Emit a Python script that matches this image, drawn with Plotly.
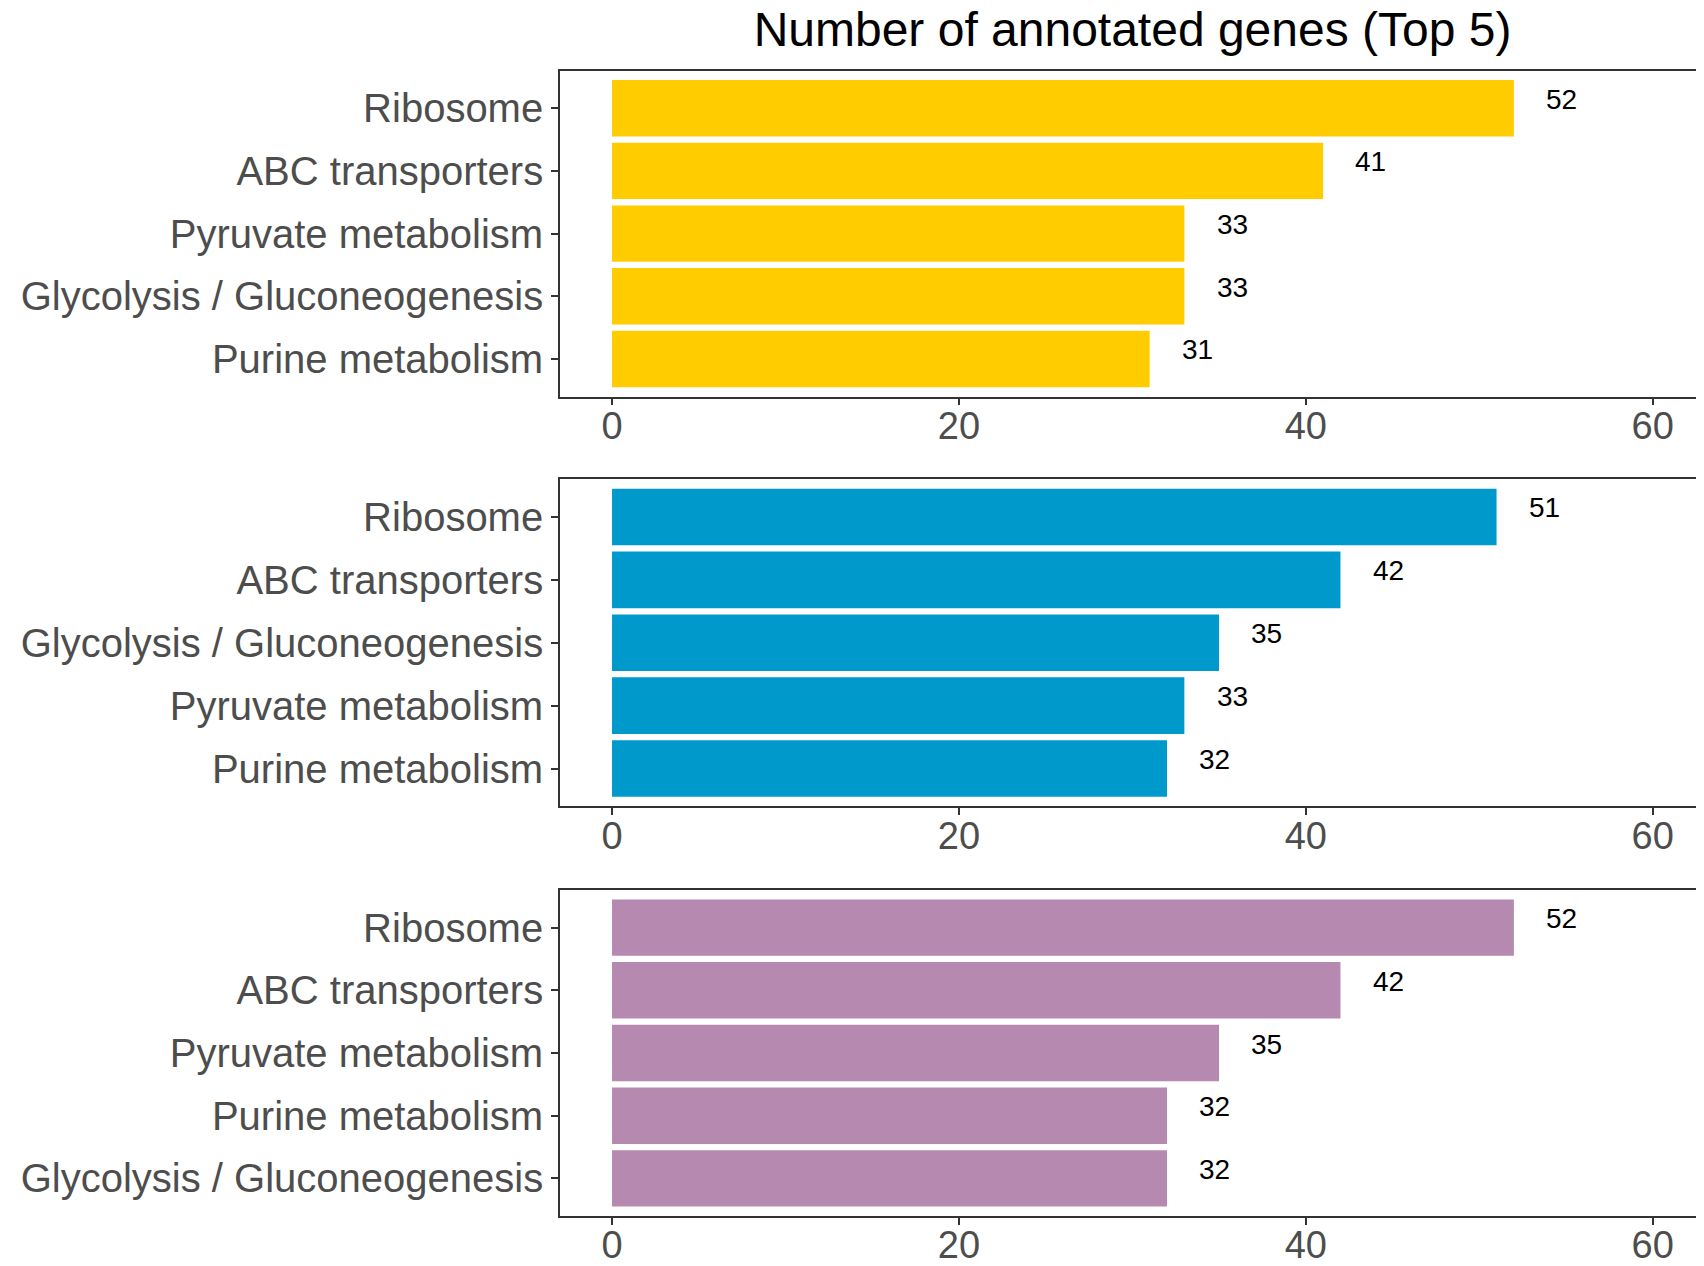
import plotly.graph_objects as go

title = "Number of annotated genes (Top 5)"

cats_1 = ["Ribosome", "ABC transporters", "Pyruvate metabolism", "Glycolysis / Gluconeogenesis", "Purine metabolism"]
vals_1 = [52, 41, 33, 33, 31]

cats_2 = ["Ribosome", "ABC transporters", "Glycolysis / Gluconeogenesis", "Pyruvate metabolism", "Purine metabolism"]
vals_2 = [51, 42, 35, 33, 32]

cats_3 = ["Ribosome", "ABC transporters", "Pyruvate metabolism", "Purine metabolism", "Glycolysis / Gluconeogenesis"]
vals_3 = [52, 42, 35, 32, 32]

colors = ["#FFCC00", "#0099CC", "#B689B0"]
x_ticks = [0, 20, 40, 60]

# page body has an 8px margin; size the figure so it fits the window exactly
OFF = 8
W, H = 1704 - 2 * OFF, 1266 - 2 * OFF
# panel pixel extents in window coords (top, bottom)
panels_px = [(70.6, 396.6), (479.2, 806.3), (890.0, 1216.0)]
label_offset = 2.75
x_range = [-3, 62.5]

fig = go.Figure()
panels = [(cats_1, vals_1), (cats_2, vals_2), (cats_3, vals_3)]
font_family = "Liberation Sans, Arial, sans-serif"
annotations = []
for i, (cats, vals) in enumerate(panels):
    n = i + 1
    xa = "x" if n == 1 else f"x{n}"
    ya = "y" if n == 1 else f"y{n}"
    fig.add_trace(go.Bar(
        x=vals, y=cats, orientation="h", width=0.9,
        marker=dict(color=colors[i], line=dict(width=0)),
        xaxis=xa, yaxis=ya, showlegend=False, hoverinfo="x+y",
    ))
    for c, v in zip(cats, vals):
        annotations.append(dict(
            x=v + label_offset, y=c, xref=xa, yref=ya, text=str(v),
            showarrow=False, xanchor="center", yanchor="middle", yshift=9,
            font=dict(family=font_family, size=28, color="#000000"),
        ))
    top, bot = panels_px[i]
    dom = [1 - (bot - OFF) / H, 1 - (top - OFF) / H]
    axis_common = dict(showline=True, linecolor="#333333", linewidth=1.6,
                       ticks="outside", ticklen=7, tickwidth=1.5, tickcolor="#333333",
                       showgrid=False, zeroline=False, automargin=False)
    fig.layout[f"xaxis{'' if n == 1 else n}"] = dict(
        axis_common, anchor=ya, domain=[0, 1], range=x_range,
        tickvals=x_ticks, ticktext=[str(t) for t in x_ticks], mirror=True,
        ticklabelstandoff=-12,
        tickfont=dict(family=font_family, size=38, color="#4D4D4D"),
    )
    fig.layout[f"yaxis{'' if n == 1 else n}"] = dict(
        axis_common, anchor=xa, domain=dom, type="category",
        categoryorder="array", categoryarray=cats, range=[4.6, -0.6],
        tickfont=dict(family=font_family, size=40, color="#4D4D4D"),
    )

fig.update_layout(
    width=W, height=H,
    margin=dict(l=560 - OFF, r=0, t=0, b=0),
    paper_bgcolor="white", plot_bgcolor="white",
    title=dict(text=title, x=0.504, xref="paper", xanchor="center",
               y=1 - (29 - OFF) / H, yref="container", yanchor="middle",
               font=dict(family=font_family, size=48, color="#000000")),
    annotations=annotations,
    bargap=0.1,
)

fig.write_html("out.html")
